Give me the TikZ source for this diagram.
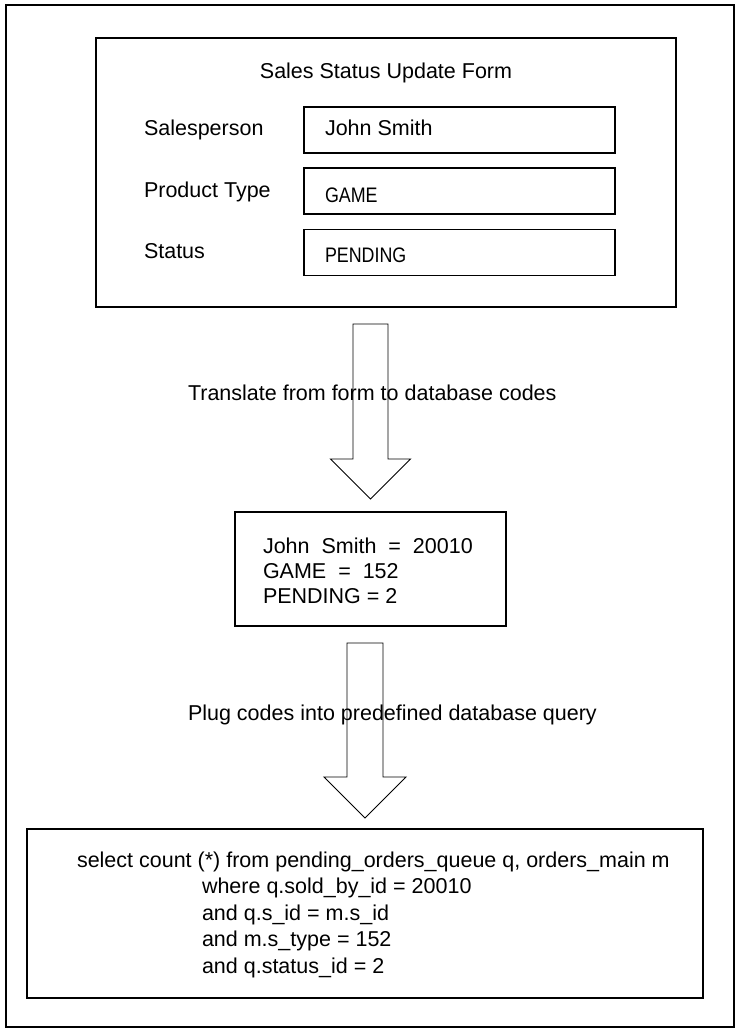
\documentclass[tikz,border=0pt]{standalone}
\usepackage{fontspec}
\setmainfont{Liberation Sans}
\usetikzlibrary{calc}

% hollow block arrow: #1 = point on the level of the shaft top, #2 = tip,
% #3 = shaft half width, #4 = head half width (= head height)
\newcommand\blockarrow[4]{%
  \draw[bigarrow] (#2) -- ($(#2)+(-#4,-#4)$) -- ($(#2)+(-#3,-#4)$)
    -- ($(#1 -| #2)+(-#3,0)$) -- ($(#1 -| #2)+(#3,0)$)
    -- ($(#2)+(#3,-#4)$) -- ($(#2)+(#4,-#4)$) -- cycle;}

\begin{document}
\begin{tikzpicture}[x=1pt,y=-1pt,
  frame/.style={draw, line width=1.4pt, inner sep=0pt, outer sep=0pt},
  field/.style={draw, line width=1.2pt, inner sep=0pt, outer sep=0pt,
    minimum width=311pt, minimum height=46pt},
  bigarrow/.style={draw, line width=0.9pt},
  txt/.style={anchor=base west, inner sep=0pt, outer sep=0pt,
    font=\fontsize{21.5}{26}\selectfont},
  cond/.style={txt, font=\fontsize{21}{26}\selectfont}]
\useasboundingbox (0,0) rectangle (736,1029);

% page border
\draw[line width=2pt] (6,5) rectangle (734,1027);

% the entry form
\node[frame, minimum width=580pt, minimum height=269pt] (form) at (386,172.5) {};
\node[txt, anchor=base] (title) at (386,78) {Sales Status Update Form};
\node[txt] (lblsales) at (144,135) {Salesperson};
\node[txt] (lblprod)  at (144,197) {Product Type};
\node[txt] (lblstat)  at (144,258) {Status};
\node[field] (fsales) at (459.5,130) {};
\node[field] (fprod)  at (459.5,191) {};
\node[field] (fstat)  at (459.5,252.5) {};
\node[txt]  (vsales) at (325,135) {John Smith};
\node[cond] (vprod)  at (325,202) {\scalebox{0.85}[1]{GAME}};
\node[cond] (vstat)  at (325,262) {\scalebox{0.85}[1]{PENDING}};

% translated codes
\node[frame, minimum width=271pt, minimum height=114pt] (codes) at (370.5,569) {};
\node[txt] (c1) at (263,553) {John\ \ Smith\ \ =\ \ 20010};
\node[txt] (c2) at (263,578) {GAME\ \ =\ \ 152};
\node[txt] (c3) at (263,603) {PENDING = 2};

% resulting query
\node[frame, minimum width=676pt, minimum height=169pt] (query) at (365,913.5) {};
\node[txt] (q1) at (77,867) {select count (*) from pending\_orders\_queue q, orders\_main m};
\node[txt] (q2) at (202,893) {where q.sold\_by\_id = 20010};
\node[txt] (q3) at (202,920) {and q.s\_id = m.s\_id};
\node[txt] (q4) at (202,946) {and m.s\_type = 152};
\node[txt] (q5) at (202,973) {and q.status\_id = 2};

% block arrows between the stages
\coordinate (top1) at ($(form.south)+(0,17)$);
\coordinate (tip1) at ($(codes.north)+(0,-13)$);
\blockarrow{top1}{tip1}{17.5}{40}
\coordinate (top2) at ($(codes.south)+(0,17)$);
\coordinate (tip2) at ($(query.north)+(0,-11)$);
\blockarrow{top2}{tip2}{18}{41}

% step captions
\node[txt] (step1) at (188,400) {Translate from form to database codes};
\node[txt] (step2) at (188,720) {Plug codes into predefined database query};
\end{tikzpicture}
\end{document}
